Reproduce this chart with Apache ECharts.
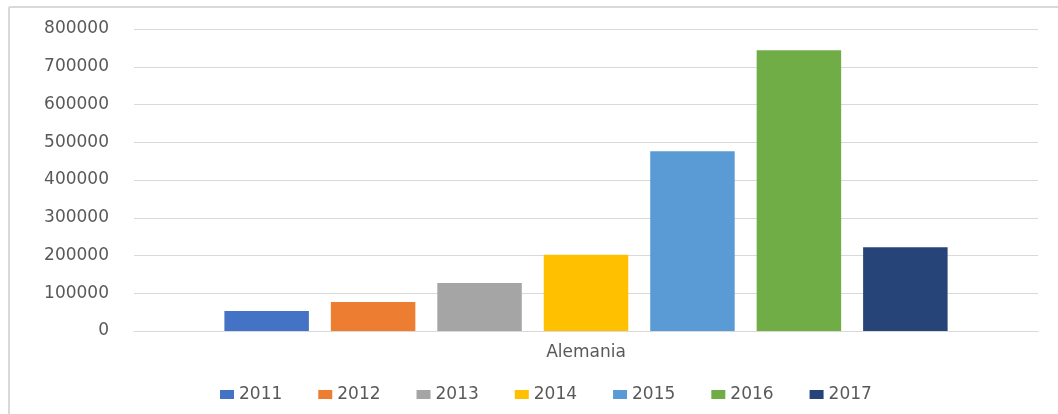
<!DOCTYPE html>
<html>
<head>
<meta charset="utf-8">
<script src="https://cdn.jsdelivr.net/npm/echarts@6/dist/echarts.min.js"></script>
<style>
  html, body { margin: 0; padding: 0; background: #fff; overflow: hidden; }
  #chart { width: 1058px; height: 414px; }
</style>
</head>
<body>
<div id="chart"></div>
<script>
  // datos
  var categories = ['Alemania']
  var years = ['2011', '2012', '2013', '2014', '2015', '2016', '2017']
  var values = [53000, 77000, 127000, 202000, 476000, 744000, 222000]
  var colors = ['#4472c4', '#ed7d31', '#a5a5a5', '#ffc000', '#5b9bd5', '#70ad47', '#264478']
  var yTicks = { min: 0, max: 800000, interval: 100000 }

  var font = 'DejaVu Sans'
  var textColor = '#595959'

  var series = years.map(function (y, i) {
    return {
      name: y,
      type: 'bar',
      barGap: '26%',
      barCategoryGap: '20%',
      itemStyle: { color: colors[i] },
      data: [values[i]]
    }
  })

  var chart = echarts.init(document.getElementById('chart'), null, { renderer: 'canvas' })
  chart.setOption({
    animation: false,
    color: colors,
    // marco del grafico (solo arriba e izquierda visibles)
    graphic: [
      { type: 'line', shape: { x1: 9, y1: 7, x2: 1058, y2: 7 }, style: { stroke: '#d9d9d9', lineWidth: 2 }, silent: true },
      { type: 'line', shape: { x1: 9, y1: 7, x2: 9, y2: 414 }, style: { stroke: '#d9d9d9', lineWidth: 2 }, silent: true }
    ],
    grid: { left: 134, right: 20, top: 29, bottom: 83, containLabel: false },
    legend: {
      left: 215,
      top: 381,
      itemWidth: 14,
      itemHeight: 9,
      itemGap: 36,
      icon: 'rect',
      textStyle: { fontFamily: font, fontSize: 17, color: textColor },
      data: years
    },
    xAxis: {
      type: 'category',
      data: categories,
      axisLine: { show: true, lineStyle: { color: '#d9d9d9', width: 1 } },
      axisTick: { show: false },
      axisLabel: { margin: 13, fontFamily: font, fontSize: 17, color: textColor }
    },
    yAxis: {
      type: 'value',
      min: yTicks.min,
      max: yTicks.max,
      interval: yTicks.interval,
      axisLine: { show: false },
      axisTick: { show: false },
      axisLabel: {
        margin: 25,
        fontFamily: font,
        fontSize: 17,
        color: textColor,
        formatter: function (v) { return String(v) }
      },
      splitLine: { lineStyle: { color: '#d9d9d9', width: 1 } }
    },
    series: series
  })
</script>
</body>
</html>
